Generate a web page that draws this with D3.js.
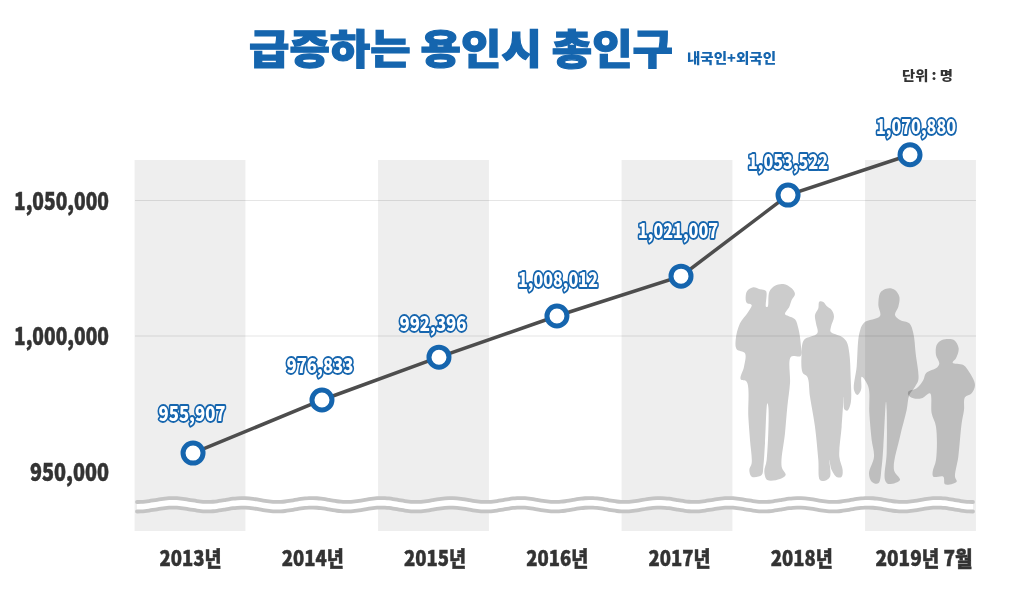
<!DOCTYPE html>
<html>
<head>
<meta charset="utf-8">
<script src="https://cdn.jsdelivr.net/npm/d3@7"></script>
<style>
  html, body { margin: 0; background: #fff; }
  text { font-family: "Noto Sans CJK KR", "Noto Sans", sans-serif; font-weight: 900; }
</style>
</head>
<body>
<div id="chart"></div>
<script>
// Data
var categories = ["2013년", "2014년", "2015년", "2016년", "2017년", "2018년", "2019년 7월"];
var valueLabels = ["955,907", "976,833", "992,396", "1,008,012", "1,021,007", "1,053,522", "1,070,880"];
// where the line really sits in the picture (it is not drawn to scale with its labels)
var plottedValues = [956600, 976200, 992000, 1007200, 1021900, 1051800, 1066700];
var plottedYears = [2013.025, 2014.084, 2015.045, 2016.014, 2017.033, 2017.912, 2018.914];
var shadedYears = [2013, 2015, 2017, 2019];
var yTicks = [1000000, 1050000];
var yTickLabels = [950000, 1000000, 1050000];

var svgWidth = 1024;
var svgHeight = 595;
var blue = "#1565ae";
var dark = "#333333";

var svg = d3.select("#chart")
    .append("svg")
    .attr("width", svgWidth)
    .attr("height", svgHeight)
    .style("display", "block");

// Scales
var x = d3.scaleLinear().domain([2013, 2019]).range([190, 920.5]);
var y = d3.scaleLinear().domain([950000, 1050000]).range([471, 200]);
var xLabels = d3.scalePoint().domain(categories).range([190, 923.5]);

// Shaded bands behind every second year
svg.append("g")
    .selectAll("rect")
    .data(shadedYears)
    .enter()
    .append("rect")
    .attr("x", d => x(d - 0.455))
    .attr("y", 160)
    .attr("width", d => x(d + 0.455) - x(d - 0.455))
    .attr("height", 371)
    .attr("fill", "#eeeeee");

var leftPair = [
  [[47,50],[52,32],[70,22],[90,28],[108,33],[108,80],[113,80],[118,35],[135,17],[160,12],[185,25],[195,42],[185,60],[178,80],[165,102],[175,108],[195,118],[205,145],[212,190],[212,228],[183,230],[180,310],[172,380],[165,460],[155,560],[167,585],[150,597],[112,600],[103,575],[110,540],[115,380],[112,370],[105,490],[100,560],[95,585],[65,590],[58,570],[65,550],[60,480],[55,410],[50,305],[32,298],[42,260],[45,220],[20,208],[17,180],[30,130],[55,95],[65,75],[50,68]],
  [[268,65],[280,66],[290,78],[305,90],[312,110],[303,140],[302,155],[335,170],[350,185],[358,220],[362,290],[362,370],[352,392],[343,388],[342,350],[335,440],[328,530],[338,570],[335,590],[322,592],[305,570],[298,540],[300,590],[285,602],[270,600],[265,540],[255,440],[240,350],[232,290],[218,278],[215,220],[222,180],[262,160],[258,130],[255,105],[265,85]]
];
var rightPair = [
  [[118,25],[135,30],[148,50],[145,80],[135,105],[150,120],[178,130],[190,160],[197,220],[205,300],[195,320],[178,345],[170,390],[150,470],[132,570],[150,600],[115,612],[105,600],[110,520],[110,390],[108,365],[100,500],[95,560],[85,610],[65,605],[57,580],[72,530],[65,480],[58,400],[55,320],[35,290],[33,330],[22,345],[12,330],[20,260],[28,160],[42,128],[90,108],[85,75],[90,40],[100,30]],
  [[290,177],[312,180],[326,205],[318,235],[308,248],[340,255],[360,280],[375,315],[365,340],[345,352],[342,390],[335,430],[325,530],[315,590],[320,605],[285,613],[280,590],[250,590],[248,575],[258,540],[258,440],[245,400],[240,340],[215,355],[190,355],[175,345],[175,335],[200,325],[220,300],[228,280],[262,262],[268,250],[258,225],[260,195],[272,182]]
];
var outline = d3.line().curve(d3.curveCatmullRomClosed.alpha(0.5));
[[leftPair, 730], [rightPair, 850]].forEach(function(pair) {
    svg.append("g")
        .attr("transform", "translate(" + pair[1] + ",280) scale(0.3333)")
        .selectAll("path")
        .data(pair[0])
        .enter()
        .append("path")
        .attr("d", outline)
        .attr("fill", "#cccccc")
        .style("mix-blend-mode", "multiply");
});

// Y axis labels, grid lines only at the two upper ticks
var leftAxis = d3.axisLeft(y)
    .tickValues(yTickLabels)
    .tickFormat(d3.format(","))
    .tickSize(-841)
    .tickPadding(26);

var yAxis = svg.append("g")
    .attr("transform", "translate(135,0)")
    .call(leftAxis);
yAxis.select(".domain").remove();
yAxis.selectAll(".tick line")
    .attr("stroke", "#000")
    .attr("stroke-opacity", d => yTicks.includes(d) ? 0.1 : 0);
yAxis.selectAll(".tick text")
    .attr("y", 1.5)
    .attr("fill", dark)
    .attr("stroke", dark)
    .attr("stroke-width", 0.5)
    .style("font-size", "24px")
    .style("font-family", '"Noto Sans CJK KR", sans-serif')
    .style("font-weight", 900)
    .attr("textLength", d => d >= 1000000 ? 95 : 79)
    .attr("lengthAdjust", "spacingAndGlyphs");

// Axis break: white stripe between two wavy grey lines
var wave = function(base) {
    return d3.line().curve(d3.curveBasis)(d3.range(137, 977, 4).map(function(px) {
        return [px, base - 2 * Math.cos((px - 173) / 69.5 * 2 * Math.PI)];
    }));
};
svg.append("path").attr("d", wave(505)).attr("fill", "none").attr("stroke", "#fff").attr("stroke-width", 9);
[500, 509.5].forEach(function(base) {
    svg.append("path")
        .attr("d", wave(base))
        .attr("fill", "none")
        .attr("stroke", "#c4c4c4")
        .attr("stroke-width", 3.8)
        .attr("stroke-linecap", "round");
});

// X axis labels
var bottomAxis = d3.axisBottom(xLabels).tickSize(0).tickPadding(0);
var xAxis = svg.append("g")
    .attr("transform", "translate(0,551)")
    .call(bottomAxis);
xAxis.select(".domain").remove();
xAxis.selectAll(".tick text")
    .attr("fill", dark)
    .attr("stroke", dark)
    .attr("stroke-width", 0.5)
    .style("font-size", "21px")
    .style("font-family", '"Noto Sans CJK KR", sans-serif')
    .style("font-weight", 900)
    .attr("textLength", d => d.length > 5 ? 97 : 62)
    .attr("lengthAdjust", "spacingAndGlyphs");

// Line and points
var points = plottedValues.map((v, i) => ({ year: plottedYears[i], value: v, label: valueLabels[i] }));

svg.append("path")
    .datum(points)
    .attr("d", d3.line().x(d => x(d.year)).y(d => y(d.value)))
    .attr("fill", "none")
    .attr("stroke", "#4d4d4d")
    .attr("stroke-width", 3.5);

svg.selectAll("circle")
    .data(points)
    .enter()
    .append("circle")
    .attr("cx", d => x(d.year))
    .attr("cy", d => y(d.value))
    .attr("r", 10)
    .attr("fill", "#fff")
    .attr("stroke", blue)
    .attr("stroke-width", 5);

// Value labels: white with a blue outline, nudged by hand like the original
var nudgeX = [-1, -2, -6, 1, -3, 0, 6];
var nudgeY = [-39, -34, -33, -36, -45, -33, -28];
svg.selectAll(".value-label")
    .data(points)
    .enter()
    .append("text")
    .attr("class", "value-label")
    .attr("x", (d, i) => x(d.year) + nudgeX[i])
    .attr("y", (d, i) => y(d.value) + nudgeY[i])
    .attr("dy", "0.36em")
    .attr("text-anchor", "middle")
    .attr("font-size", 20)
    .attr("textLength", d => d.label.length > 7 ? 80 : 67)
    .attr("lengthAdjust", "spacingAndGlyphs")
    .attr("fill", "#fff")
    .attr("stroke", blue)
    .attr("stroke-width", 3.8)
    .attr("stroke-linejoin", "round")
    .attr("paint-order", "stroke")
    .text(d => d.label);

// Title block
svg.append("text")
    .attr("x", 249).attr("y", 64)
    .attr("font-size", 41)
    .attr("textLength", 424)
    .attr("lengthAdjust", "spacingAndGlyphs")
    .attr("fill", blue)
    .attr("stroke", blue)
    .attr("stroke-width", 1.2)
    .text("급증하는 용인시 총인구");

svg.append("text")
    .attr("x", 687).attr("y", 63)
    .attr("font-size", 14)
    .attr("textLength", 89)
    .attr("lengthAdjust", "spacingAndGlyphs")
    .attr("fill", blue)
    .text("내국인+외국인");

svg.append("text")
    .attr("x", 902).attr("y", 80)
    .attr("font-size", 13)
    .attr("textLength", 51)
    .attr("lengthAdjust", "spacingAndGlyphs")
    .attr("fill", dark)
    .text("단위 : 명");
</script>
</body>
</html>
